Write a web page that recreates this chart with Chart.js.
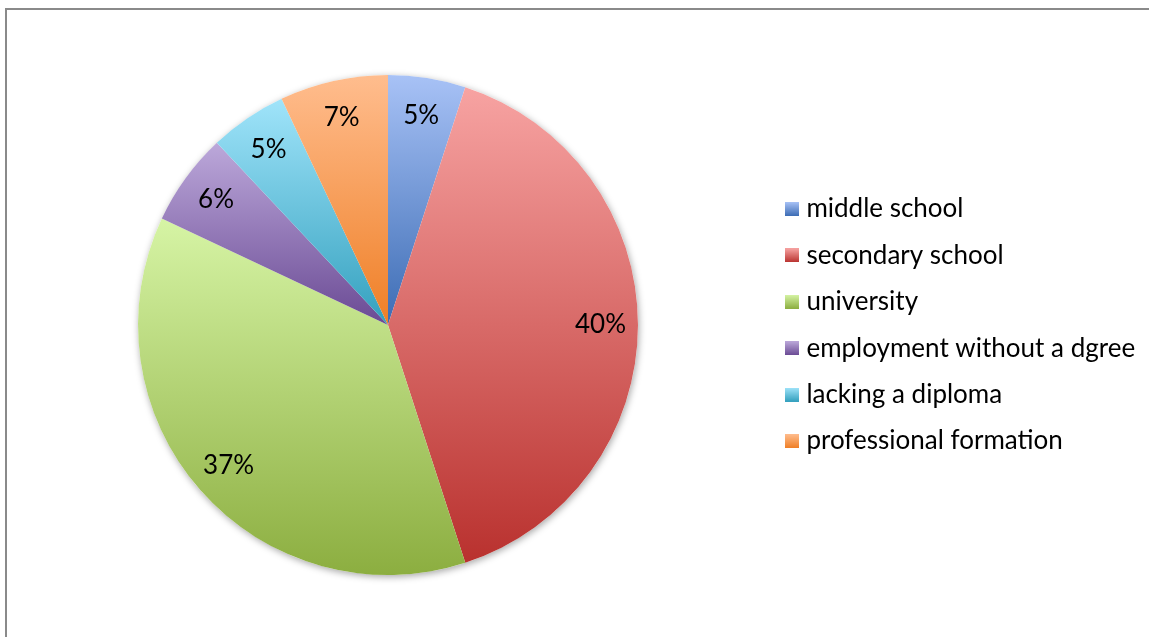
<!DOCTYPE html>
<html>
<head>
<meta charset="utf-8">
<script src="https://cdn.jsdelivr.net/npm/chart.js@4.4.1/dist/chart.umd.min.js"></script>
<style>
  html, body { margin: 0; padding: 0; background: #fff; overflow: hidden; }
  #wrap { position: relative; width: 1149px; height: 637px; }
  #frame {
    position: absolute; left: 5px; top: 8px; right: -4px; bottom: -4px;
    border-left: 2px solid #8a8a8a; border-top: 2px solid #8a8a8a;
    pointer-events: none;
  }
</style>
</head>
<body>
<div id="wrap">
  <canvas id="pie-chart" width="1149" height="637"></canvas>
  <div id="frame"></div>
</div>
<script>
const categories = [
  "middle school",
  "secondary school",
  "university",
  "employment without a dgree",
  "lacking a diploma",
  "professional formation",
];
const shares = [5, 40, 37, 6, 5, 7];

// each slice fades from the light tone (top) to the dark tone (bottom)
const lightColors = ["#a8c2f6", "#f7a3a2", "#d6f4a5", "#bca8da", "#a0e4fa", "#ffbd8e"];
const darkColors = ["#3c6cb4", "#b9312e", "#8cae40", "#6a4a94", "#33a0be", "#ef7f26"];

const fontFamily = "Lato";
const fontSize = 26;
const legendPadding = 20.4;

Chart.defaults.font.family = fontFamily;
Chart.defaults.font.size = fontSize;
Chart.defaults.color = "#000";

// small gradient squares used as legend markers
const makeSwatch = (i) => {
  const c = document.createElement("canvas");
  c.width = 14;
  c.height = 14;
  const g = c.getContext("2d");
  const grad = g.createLinearGradient(0, 0, 0, 14);
  grad.addColorStop(0, lightColors[i]);
  grad.addColorStop(1, darkColors[i]);
  g.fillStyle = grad;
  g.fillRect(0, 0, 14, 14);
  return c;
};
const swatches = categories.map((_, i) => makeSwatch(i));

// vertical extent of a pie slice (it always touches the centre)
const sliceYRange = (y, r, a0, a1) => {
  let top = y;
  let bottom = y;
  [a0, a1].forEach((a) => {
    const py = y + Math.sin(a) * r;
    top = Math.min(top, py);
    bottom = Math.max(bottom, py);
  });
  for (let k = -2; k <= 2; k++) {
    const up = -Math.PI / 2 + k * 2 * Math.PI;
    const down = Math.PI / 2 + k * 2 * Math.PI;
    if (up > a0 && up < a1) top = y - r;
    if (down > a0 && down < a1) bottom = y + r;
  }
  return [top, bottom];
};

const sliceGradients = {
  id: "sliceGradients",
  beforeDatasetsDraw(chart) {
    const ctx = chart.ctx;
    const arcs = chart.getDatasetMeta(0).data;
    if (!arcs.length) return;

    // soft drop shadow under the whole pie
    const c = arcs[0].getProps(["x", "y", "outerRadius"], true);
    ctx.save();
    ctx.shadowColor = "rgba(0, 0, 0, 0.35)";
    ctx.shadowBlur = 7;
    ctx.shadowOffsetX = 1;
    ctx.shadowOffsetY = 2;
    ctx.fillStyle = "#fff";
    ctx.beginPath();
    ctx.arc(c.x, c.y, c.outerRadius, 0, Math.PI * 2);
    ctx.fill();
    ctx.restore();

    arcs.forEach((arc, i) => {
      const p = arc.getProps(["x", "y", "startAngle", "endAngle", "outerRadius"], true);
      const [top, bottom] = sliceYRange(p.y, p.outerRadius, p.startAngle, p.endAngle);
      const grad = ctx.createLinearGradient(0, top, 0, bottom);
      grad.addColorStop(0, lightColors[i]);
      grad.addColorStop(1, darkColors[i]);
      if (Object.isFrozen(arc.options)) {
        arc.options = Object.assign({}, arc.options, { backgroundColor: grad });
      } else {
        arc.options.backgroundColor = grad;
      }
    });
  },
};

const sliceLabels = {
  id: "sliceLabels",
  afterDatasetsDraw(chart) {
    const ctx = chart.ctx;
    ctx.save();
    ctx.font = fontSize + "px " + fontFamily;
    ctx.fillStyle = "#000";
    ctx.textAlign = "center";
    ctx.textBaseline = "middle";
    chart.getDatasetMeta(0).data.forEach((arc, i) => {
      const p = arc.getProps(["x", "y", "startAngle", "endAngle", "outerRadius"], true);
      const mid = (p.startAngle + p.endAngle) / 2;
      const r = p.outerRadius * 0.85;
      ctx.fillText(shares[i] + "%", p.x + Math.cos(mid) * r, p.y + Math.sin(mid) * r);
    });
    ctx.restore();
  },
};

// keep the legend's left edge fixed whatever the label widths are
const measure = document.createElement("canvas").getContext("2d");
measure.font = fontSize + "px " + fontFamily;
const widestLabel = Math.max(...categories.map((t) => measure.measureText(t).width));
const legendLeft = 771;
const legendWidth = legendPadding + 2 + fontSize / 2 + widestLabel + 10;
const rightPad = Math.max(0, 1149 - legendLeft - legendWidth);
const leftPad = 2 * 388 - legendLeft;

const pieChartCanvas = document.getElementById("pie-chart");
new Chart(pieChartCanvas, {
  type: "pie",
  data: {
    labels: categories,
    datasets: [
      {
        data: shares,
        backgroundColor: darkColors,
        borderWidth: 0,
        radius: 250,
      },
    ],
  },
  options: {
    responsive: false,
    animation: false,
    events: [],
    layout: {
      padding: { left: leftPad, right: rightPad, top: 75, bottom: 62 },
    },
    plugins: {
      tooltip: { enabled: false },
      legend: {
        position: "right",
        align: "center",
        labels: {
          usePointStyle: true,
          boxWidth: 2,
          padding: legendPadding,
          color: "#000",
          font: { family: fontFamily, size: fontSize },
          generateLabels: () =>
            categories.map((text, i) => ({
              text,
              pointStyle: swatches[i],
              hidden: false,
              index: i,
              lineWidth: 0,
            })),
        },
      },
    },
  },
  plugins: [sliceGradients, sliceLabels],
});
</script>
</body>
</html>
